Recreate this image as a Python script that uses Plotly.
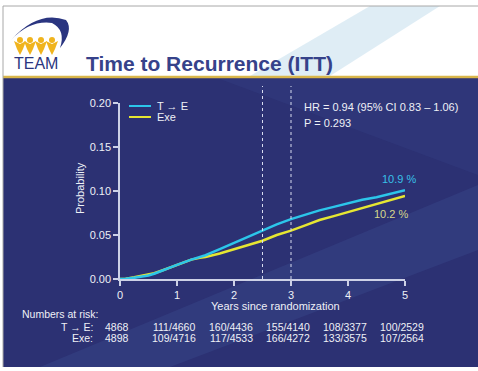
import plotly.graph_objects as go

# ---------------- data ----------------
years = [0, 0.1, 0.25, 0.4, 0.5, 0.6, 0.75, 1.0, 1.25, 1.4, 1.5, 1.75, 2.0, 2.25, 2.5,
         2.75, 3.0, 3.25, 3.5, 3.75, 4.0, 4.25, 4.5, 4.75, 5.0]
te_prob = [0, 0.0002, 0.0015, 0.003, 0.004, 0.006, 0.010, 0.016, 0.022, 0.025, 0.027,
           0.034, 0.041, 0.048, 0.0555, 0.062, 0.068, 0.073, 0.078, 0.082, 0.086, 0.090,
           0.093, 0.097, 0.101]
exe_prob = [0, 0.0004, 0.002, 0.004, 0.005, 0.0065, 0.010, 0.016, 0.022, 0.024, 0.025,
            0.029, 0.034, 0.039, 0.0435, 0.050, 0.055, 0.061, 0.067, 0.0715, 0.076, 0.081,
            0.085, 0.090, 0.0945]
series_names = ["T \u2192 E", "Exe"]
end_labels = ["10.9 %", "10.2 %"]
risk_times = [0, 1, 2, 3, 4, 5]
te_risk = ["4868", "111/4660", "160/4436", "155/4140", "108/3377", "100/2529"]
exe_risk = ["4898", "109/4716", "117/4533", "166/4272", "133/3575", "107/2564"]
x_ticks = [0, 1, 2, 3, 4, 5]
y_ticks = [0.00, 0.05, 0.10, 0.15, 0.20]
ref_lines = [2.5, 3.0]

# ---------------- layout helpers ----------------
W, H = 478, 371
L, R, T, B = 120, 73, 103, 92
PW, PH = W - L - R, H - T - B


def px(x):
    return (x - L) / PW


def py(y):
    return (H - B - y) / PH


FONT = "Liberation Sans, Arial, sans-serif"
NAVY = "#2c3173"
CYAN = "#2cc6ea"
YELLOW = "#e6e632"
TXT = "#eef0f6"

fig = go.Figure()
fig.add_trace(go.Scatter(x=years, y=exe_prob, mode="lines", name=series_names[1],
                         line=dict(color=YELLOW, width=2.5), showlegend=False,
                         hoverinfo="skip"))
fig.add_trace(go.Scatter(x=years, y=te_prob, mode="lines", name=series_names[0],
                         line=dict(color=CYAN, width=2.5), showlegend=False,
                         hoverinfo="skip"))

shapes = []
# navy panel
shapes.append(dict(type="rect", xref="paper", yref="paper", x0=px(3), x1=px(478),
                   y0=py(367), y1=py(78), fillcolor=NAVY, line_width=0, layer="below"))
# lighter streaks in navy panel
shapes.append(dict(type="path", xref="paper", yref="paper",
                   path=f"M {px(40)},{py(367)} L {px(170)},{py(367)} L {px(478)},{py(250)} L {px(478)},{py(185)} Z",
                   fillcolor="rgba(80,110,180,0.16)", line_width=0, layer="below"))
shapes.append(dict(type="path", xref="paper", yref="paper",
                   path=f"M {px(220)},{py(79)} L {px(478)},{py(79)} L {px(478)},{py(175)} Z",
                   fillcolor="rgba(70,90,160,0.15)", line_width=0, layer="below"))
# header swoosh
shapes.append(dict(type="path", xref="paper", yref="paper",
                   path=f"M {px(250)},{py(76)} L {px(330)},{py(76)} L {px(440)},{py(6)} L {px(370)},{py(6)} Z",
                   fillcolor="rgba(185,215,232,0.45)", line_width=0, layer="below"))
# gold rule
shapes.append(dict(type="line", xref="paper", yref="paper", x0=px(3), x1=px(478),
                   y0=py(77), y1=py(77), line=dict(color="#d9b64a", width=2.5), layer="below"))
# grey borders
shapes.append(dict(type="line", xref="paper", yref="paper", x0=px(3), x1=px(478),
                   y0=py(6), y1=py(6), line=dict(color="#a8a8a8", width=1), layer="below"))
shapes.append(dict(type="line", xref="paper", yref="paper", x0=px(3), x1=px(3),
                   y0=py(6), y1=py(367), line=dict(color="#a8a8a8", width=1), layer="below"))
# logo arc
shapes.append(dict(type="path", xref="paper", yref="paper",
                   path=(f"M {px(11)},{py(40)} Q {px(38)},{py(10)} {px(66)},{py(20)} "
                         f"Q {px(74)},{py(30)} {px(60)},{py(48)} "
                         f"Q {px(66)},{py(30)} {px(52)},{py(23)} "
                         f"Q {px(30)},{py(20)} {px(11)},{py(40)} Z"),
                   fillcolor="#2a3580", line_width=0, layer="below"))
# logo figures
for cx in [20, 30, 41, 52]:
    shapes.append(dict(type="circle", xref="paper", yref="paper",
                       x0=px(cx - 3), x1=px(cx + 3), y0=py(43), y1=py(37),
                       fillcolor="#f0b41e", line_width=0, layer="below"))
    shapes.append(dict(type="path", xref="paper", yref="paper",
                       path=(f"M {px(cx - 6)},{py(41)} L {px(cx)},{py(44)} L {px(cx + 6)},{py(41)} "
                             f"L {px(cx + 3)},{py(49)} L {px(cx)},{py(55)} L {px(cx - 3)},{py(49)} Z"),
                       fillcolor="#f0b41e", line_width=0, layer="below"))
# reference dotted lines
for xv in ref_lines:
    shapes.append(dict(type="line", xref="x", yref="paper", x0=xv, x1=xv,
                       y0=0, y1=py(86), line=dict(color="#d8dcf0", width=1, dash="dot")))
# legend samples
shapes.append(dict(type="line", xref="paper", yref="paper", x0=px(129), x1=px(151),
                   y0=py(106), y1=py(106), line=dict(color=CYAN, width=2)))
shapes.append(dict(type="line", xref="paper", yref="paper", x0=px(129), x1=px(151),
                   y0=py(117), y1=py(117), line=dict(color=YELLOW, width=2)))

ann = []
ann.append(dict(text="Time to Recurrence (ITT)", xref="paper", yref="paper", x=px(84), y=py(63),
                xanchor="left", yanchor="middle", showarrow=False,
                font=dict(family=FONT, size=21, color="#36428a", weight="bold")))
ann.append(dict(text="TEAM", xref="paper", yref="paper", x=px(36), y=py(64),
                xanchor="center", yanchor="middle", showarrow=False,
                font=dict(family=FONT, size=16, color="#2a3580")))
ann.append(dict(text=series_names[0], xref="paper", yref="paper", x=px(155), y=py(106),
                xanchor="left", yanchor="middle", showarrow=False,
                font=dict(family=FONT, size=11, color=TXT)))
ann.append(dict(text=series_names[1], xref="paper", yref="paper", x=px(155), y=py(117),
                xanchor="left", yanchor="middle", showarrow=False,
                font=dict(family=FONT, size=11, color=TXT)))
ann.append(dict(text="HR = 0.94 (95% CI 0.83 \u2013 1.06)", xref="paper", yref="paper",
                x=px(302), y=py(107), xanchor="left", yanchor="middle", showarrow=False,
                font=dict(family=FONT, size=11, color=TXT)))
ann.append(dict(text="P = 0.293", xref="paper", yref="paper",
                x=px(302), y=py(123), xanchor="left", yanchor="middle", showarrow=False,
                font=dict(family=FONT, size=11, color=TXT)))
ann.append(dict(text=end_labels[0], xref="paper", yref="paper", x=px(399), y=py(179),
                xanchor="center", yanchor="middle", showarrow=False,
                font=dict(family=FONT, size=11, color="#38c0e8")))
ann.append(dict(text=end_labels[1], xref="paper", yref="paper", x=px(391), y=py(214),
                xanchor="center", yanchor="middle", showarrow=False,
                font=dict(family=FONT, size=11, color="#d6d88c")))
ann.append(dict(text="Years since randomization", xref="paper", yref="paper", x=px(275), y=py(306),
                xanchor="center", yanchor="middle", showarrow=False,
                font=dict(family=FONT, size=11, color=TXT)))
ann.append(dict(text="Probability", xref="paper", yref="paper", x=px(80), y=py(188),
                xanchor="center", yanchor="middle", showarrow=False, textangle=-90,
                font=dict(family=FONT, size=11, color=TXT)))
ann.append(dict(text="Numbers at risk:", xref="paper", yref="paper", x=px(20), y=py(314),
                xanchor="left", yanchor="middle", showarrow=False,
                font=dict(family=FONT, size=10.5, color=TXT)))
ann.append(dict(text=series_names[0] + ":", xref="paper", yref="paper", x=px(95), y=py(327),
                xanchor="right", yanchor="middle", showarrow=False,
                font=dict(family=FONT, size=10.5, color=TXT)))
ann.append(dict(text=series_names[1] + ":", xref="paper", yref="paper", x=px(95), y=py(338),
                xanchor="right", yanchor="middle", showarrow=False,
                font=dict(family=FONT, size=10.5, color=TXT)))
for t, a, b in zip(risk_times, te_risk, exe_risk):
    ann.append(dict(text=a, xref="x", yref="paper", x=t, y=py(327), xshift=-3,
                    xanchor="center", yanchor="middle", showarrow=False,
                    font=dict(family=FONT, size=10.5, color=TXT)))
    ann.append(dict(text=b, xref="x", yref="paper", x=t, y=py(338), xshift=-3,
                    xanchor="center", yanchor="middle", showarrow=False,
                    font=dict(family=FONT, size=10.5, color=TXT)))

axis_common = dict(showline=True, linecolor="#cdd1e6", linewidth=1.5, showgrid=False,
                   zeroline=False, ticks="outside", ticklen=5, tickcolor="#cdd1e6",
                   tickwidth=1.5, tickfont=dict(family=FONT, size=11, color=TXT))

fig.update_layout(
    width=W, height=H, margin=dict(l=L, r=R, t=T, b=B, autoexpand=False),
    paper_bgcolor="white", plot_bgcolor="rgba(0,0,0,0)",
    shapes=shapes, annotations=ann, showlegend=False,
    xaxis=dict(range=[0, 5], tickvals=x_ticks, **axis_common),
    yaxis=dict(range=[0, 0.2], tickvals=y_ticks, tickformat=".2f", **axis_common),
)

fig.write_html("out.html", config={"displayModeBar": False},
               post_script="document.body.style.margin='0';document.body.style.overflow='hidden';")
